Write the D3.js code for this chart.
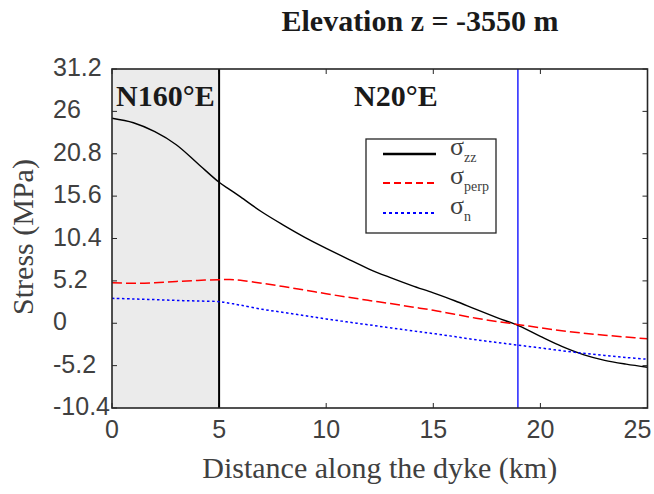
<!DOCTYPE html>
<html>
<head>
<meta charset="utf-8">
<script src="https://cdn.jsdelivr.net/npm/d3@7"></script>
<style>
  html, body { margin: 0; padding: 0; background: #fff; }
  svg { display: block; }
</style>
</head>
<body>
<svg id="chart" width="654" height="494"></svg>
<script>
// Stress profiles along the dyke at elevation z = -3550 m
const distanceKm = [0, 1, 2, 3, 4, 5, 5.5, 6, 7, 8, 9, 10, 11, 12, 13, 14, 15, 16, 17, 18, 19, 20, 21, 22, 23, 24, 25];
const sigmaZZ   = [25.15, 24.6, 23.5, 21.9, 19.6, 17.3, 16.4, 15.5, 13.65, 12.05, 10.55, 9.2, 7.9, 6.65, 5.6, 4.62, 3.72, 2.76, 1.7, 0.67, -0.32, -1.62, -2.85, -3.85, -4.55, -5.02, -5.4];
const sigmaPerp = [4.98, 4.9, 4.98, 5.13, 5.26, 5.35, 5.38, 5.27, 4.9, 4.5, 4.07, 3.62, 3.2, 2.8, 2.41, 2.0, 1.6, 1.1, 0.62, 0.2, -0.17, -0.56, -0.91, -1.22, -1.47, -1.7, -1.9];
const sigmaN    = [3.06, 2.98, 2.9, 2.8, 2.73, 2.65, 2.45, 2.22, 1.72, 1.33, 0.93, 0.53, 0.16, -0.2, -0.56, -0.92, -1.27, -1.64, -2.03, -2.37, -2.7, -3.03, -3.37, -3.68, -3.95, -4.2, -4.42];

const xTicks = [0, 5, 10, 15, 20, 25];
const yTicks = [-10.4, -5.2, 0, 5.2, 10.4, 15.6, 20.8, 26, 31.2];
const yTickLabels = ["-10.4", "-5.2", "0", "5.2", "10.4", "15.6", "20.8", "26", "31.2"];

// Segment boundaries (km): strike change and the second marker
const segmentBreak = 5;
const markerKm = 18.95;
const segmentNames = ["N160°E", "N20°E"];

const seriesNames = ["zz", "perp", "n"];

const svg = d3.select("#chart");
const plotL = 112, plotR = 647.5, plotT = 69, plotB = 408;

const x = d3.scaleLinear().domain([0, 25]).range([plotL, plotR]);
const y = d3.scaleLinear().domain([-10.4, 31.2]).range([plotB, plotT]);

const serif = "'Liberation Serif', 'Times New Roman', serif";
const sans = "'Liberation Sans', Arial, Helvetica, sans-serif";
const axisGray = "#404040";

// Shaded N160°E segment
svg.append("rect")
  .attr("x", x(0)).attr("y", plotT)
  .attr("width", x(segmentBreak) - x(0)).attr("height", plotB - plotT)
  .attr("fill", "#ebebeb");

// Inward ticks on all four sides
const tickLen = 5;
const tg = svg.append("g").attr("stroke", "#262626").attr("stroke-width", 1);
yTicks.forEach(v => {
  tg.append("line").attr("x1", plotL).attr("x2", plotL + tickLen).attr("y1", y(v)).attr("y2", y(v));
  tg.append("line").attr("x1", plotR).attr("x2", plotR - tickLen).attr("y1", y(v)).attr("y2", y(v));
});
xTicks.forEach(v => {
  tg.append("line").attr("x1", x(v)).attr("x2", x(v)).attr("y1", plotB).attr("y2", plotB - tickLen);
  tg.append("line").attr("x1", x(v)).attr("x2", x(v)).attr("y1", plotT).attr("y2", plotT + tickLen);
});

// Segment divider and marker lines
svg.append("line")
  .attr("x1", x(segmentBreak)).attr("x2", x(segmentBreak))
  .attr("y1", plotT).attr("y2", plotB)
  .attr("stroke", "#000").attr("stroke-width", 2);
svg.append("line")
  .attr("x1", x(markerKm)).attr("x2", x(markerKm))
  .attr("y1", plotT).attr("y2", plotB)
  .attr("stroke", "#0000ff").attr("stroke-width", 1.3);

// Curves
const line = d3.line().x(d => x(d[0])).y(d => y(d[1])).curve(d3.curveCatmullRom.alpha(0.5));
const styles = [
  { data: sigmaZZ, color: "#000000", width: 1.4, dash: null },
  { data: sigmaPerp, color: "#ff0000", width: 1.5, dash: "10,4" },
  { data: sigmaN, color: "#0000ff", width: 1.5, dash: "2.5,2.5" }
];
styles.forEach(s => {
  svg.append("path")
    .datum(distanceKm.map((d, i) => [d, s.data[i]]))
    .attr("d", line)
    .attr("fill", "none")
    .attr("stroke", s.color)
    .attr("stroke-width", s.width)
    .attr("stroke-dasharray", s.dash);
});

// Axes box
svg.append("rect")
  .attr("x", plotL).attr("y", plotT)
  .attr("width", plotR - plotL).attr("height", plotB - plotT)
  .attr("fill", "none").attr("stroke", "#262626").attr("stroke-width", 1.6);

// Y tick labels (left aligned)
svg.append("g").selectAll("text").data(yTicks).join("text")
  .attr("x", 53).attr("y", d => y(d) - 2)
  .attr("dominant-baseline", "central")
  .attr("font-family", sans).attr("font-size", 25).attr("fill", axisGray)
  .text((d, i) => yTickLabels[i]);

// X tick labels
svg.append("g").selectAll("text").data(xTicks).join("text")
  .attr("x", d => d === 25 ? x(d) - 10 : x(d)).attr("y", 438)
  .attr("text-anchor", "middle")
  .attr("font-family", sans).attr("font-size", 25).attr("fill", axisGray)
  .text(d => d);

// Axis titles
svg.append("text")
  .attr("x", (plotL + plotR) / 2).attr("y", 478)
  .attr("text-anchor", "middle")
  .attr("font-family", serif).attr("font-size", 30).attr("fill", axisGray)
  .text("Distance along the dyke (km)");
svg.append("text")
  .attr("transform", `translate(33, 237) rotate(-90)`)
  .attr("text-anchor", "middle")
  .attr("font-family", serif).attr("font-size", 30).attr("fill", axisGray)
  .text("Stress (MPa)");

// Chart title
svg.append("text")
  .attr("x", 420).attr("y", 31)
  .attr("text-anchor", "middle")
  .attr("font-family", serif).attr("font-size", 30).attr("font-weight", "bold").attr("fill", "#1a1a1a")
  .text("Elevation z = -3550 m");

// Segment labels
svg.append("text")
  .attr("x", 116).attr("y", 106)
  .attr("font-family", serif).attr("font-size", 30).attr("font-weight", "bold").attr("fill", "#1a1a1a")
  .text(segmentNames[0]);
svg.append("text")
  .attr("x", 354).attr("y", 106)
  .attr("font-family", serif).attr("font-size", 30).attr("font-weight", "bold").attr("fill", "#1a1a1a")
  .text(segmentNames[1]);

// Legend
const lg = svg.append("g");
lg.append("rect")
  .attr("x", 366).attr("y", 139).attr("width", 130).attr("height", 94)
  .attr("fill", "#fff").attr("stroke", "#262626").attr("stroke-width", 1.3);
const legendY = [154, 183, 213];
const legendStyles = [
  { color: "#000000", width: 2.6, dash: null },
  { color: "#ff0000", width: 2.2, dash: "7,4" },
  { color: "#0000ff", width: 2.2, dash: "3,3" }
];
seriesNames.forEach((name, i) => {
  const ly = legendY[i];
  lg.append("line")
    .attr("x1", 383).attr("x2", 436).attr("y1", ly).attr("y2", ly)
    .attr("stroke", legendStyles[i].color)
    .attr("stroke-width", legendStyles[i].width)
    .attr("stroke-dasharray", legendStyles[i].dash);
  const t = lg.append("text")
    .attr("x", 450).attr("y", ly + 1)
    .attr("font-family", serif).attr("fill", axisGray);
  t.append("tspan").attr("font-size", 26).text("σ");
  t.append("tspan").attr("font-size", 14).attr("dy", 7).text(name);
});
</script>
</body>
</html>
